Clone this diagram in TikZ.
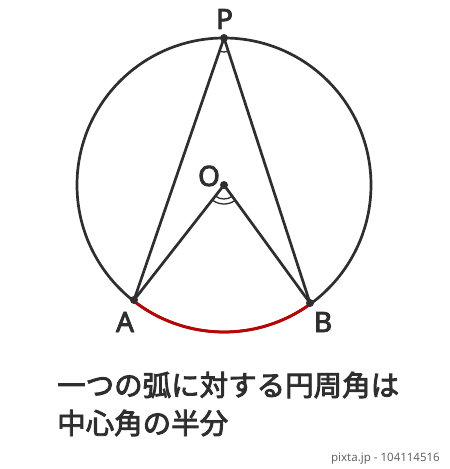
\documentclass[tikz,border=0pt]{standalone}
\usepackage{fontspec}
\setmainfont{Noto Sans}
\newfontfamily\cjk{Noto Sans CJK JP}[FakeBold=3]
\newfontfamily\lblfont{Noto Sans}[FakeBold=3]
\definecolor{ink}{HTML}{2E2E2E}
\definecolor{arcred}{HTML}{C00000}
\begin{document}
\begin{tikzpicture}[x=1pt,y=-1pt,
  geo/.style={draw=ink,line width=2.7pt},
  thinarc/.style={draw=ink,line width=1.3pt},
  pt/.style={circle,fill=ink,inner sep=0pt,minimum size=8pt},
  lbl/.style={font=\lblfont\fontsize{28}{28}\selectfont,text=ink,inner sep=0pt},
  jp/.style={font=\cjk\fontsize{28.5}{28.5}\selectfont,text=ink,anchor=west,inner sep=0pt}]
\useasboundingbox (0,0) rectangle (450,469);
\fill[white] (0,0) rectangle (450,469);
\coordinate (C) at (224,185);
\draw[geo] (C) circle[radius=147pt];
\coordinate (P) at (224,38);
\coordinate (A) at (134,300);
\coordinate (B) at (310,303);
\coordinate (O) at (224,185);
% red arc
\draw[draw=arcred,line width=2.8pt] (C) ++(232:147pt) arc[start angle=232,end angle=306,radius=147pt];
\draw[geo,line join=round] (A) -- (P) -- (B);
\draw[geo,line join=round] (A) -- (O) -- (B);
% angle marks
\draw[thinarc] (P) ++(-109:14pt) arc[start angle=-109,end angle=-72,radius=14pt];
\draw[thinarc] (O) ++(-128:14pt) arc[start angle=-128,end angle=-54,radius=14pt];
\draw[thinarc] (O) ++(-128:19pt) arc[start angle=-128,end angle=-54,radius=19pt];
% points
\node[pt] (p) at (P) {};
\node[pt] (o) at (O) {};
\node[pt] (a) at (A) {};
\node[pt] (b) at (B) {};
% labels
\node[lbl] (lp) at (224.5,19) {P};
\node[lbl] (lo) at (209,176) {O};
\node[lbl] (la) at (125,322) {A};
\node[lbl] (lb) at (323,322) {B};
% caption
\node[jp] (t1) at (57,385) {一つの弧に対する円周角は};
\node[jp] (t2) at (57,423) {中心角の半分};
\node[font=\fontsize{11.5}{11.5}\selectfont,text=black!60,anchor=east,inner sep=0pt] (wm) at (440,459) {pixta.jp - 104114516};
\end{tikzpicture}
\end{document}
